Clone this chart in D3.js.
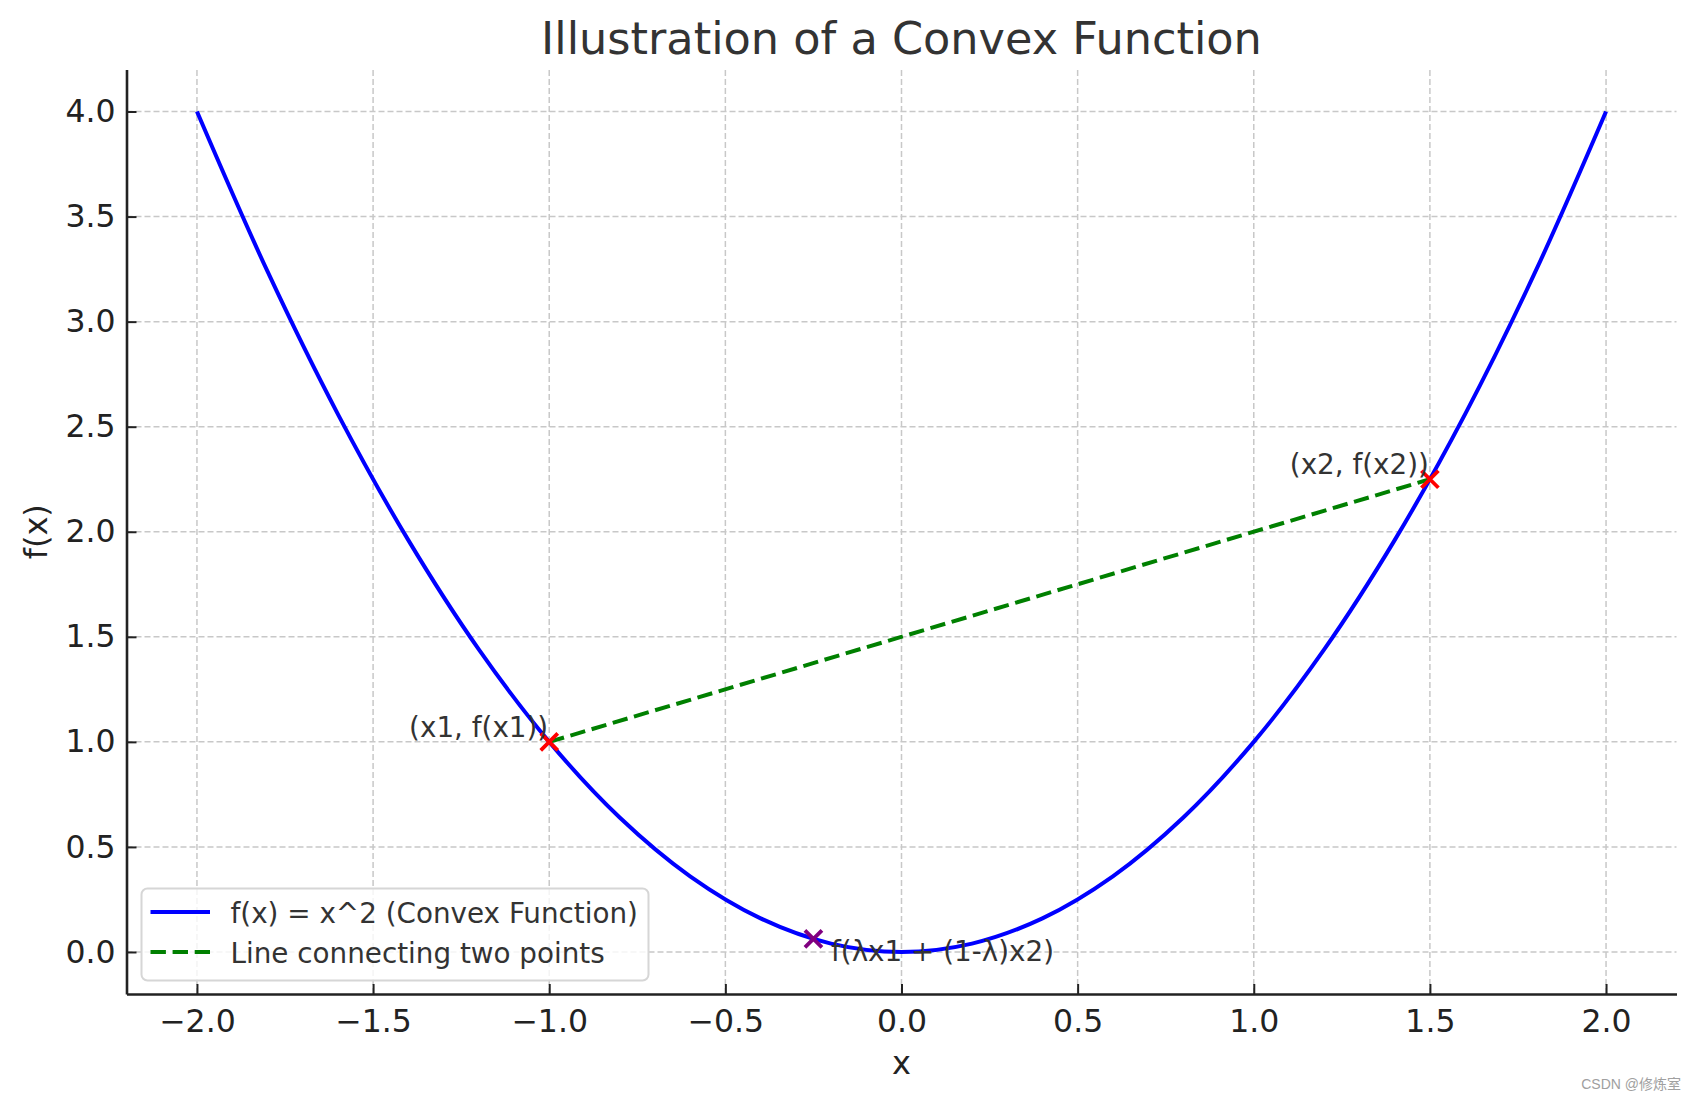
<!DOCTYPE html>
<html>
<head>
<meta charset="utf-8">
<script src="https://cdn.jsdelivr.net/npm/d3@7"></script>
<style>
  body { margin: 0; background: #fff; }
  svg { display: block; font-family: "DejaVu Sans", sans-serif; }
  .grid line { stroke: #c8c8c8; stroke-width: 1.5; stroke-dasharray: 6,3; }
  .axis path, .axis line { stroke: #222; }
  .axis text { fill: #222; font-size: 31.5px; font-family: "DejaVu Sans", sans-serif; }
</style>
</head>
<body>
<script>
// curve samples: f(x) = x^2
var curveX = [-2.0, -1.8, -1.6, -1.4, -1.2, -1.0, -0.8, -0.6, -0.4, -0.2, 0.0,
              0.2, 0.4, 0.6, 0.8, 1.0, 1.2, 1.4, 1.6, 1.8, 2.0];
var curveY = [4.00, 3.24, 2.56, 1.96, 1.44, 1.00, 0.64, 0.36, 0.16, 0.04, 0.00,
              0.04, 0.16, 0.36, 0.64, 1.00, 1.44, 1.96, 2.56, 3.24, 4.00];

// the two points joined by the chord
var pointX = [-1.0, 1.5];
var pointY = [1.0, 2.25];
var pointLabels = ["(x1, f(x1))", "(x2, f(x2))"];

// the point on the curve at lambda*x1 + (1-lambda)*x2
var midX = [-0.25];
var midY = [0.0625];
var midLabel = "f(\u03bbx1 + (1-\u03bb)x2)";

var xTicks = [-2.0, -1.5, -1.0, -0.5, 0.0, 0.5, 1.0, 1.5, 2.0];
var yTicks = [0.0, 0.5, 1.0, 1.5, 2.0, 2.5, 3.0, 3.5, 4.0];
var legendLabels = ["f(x) = x^2 (Convex Function)", "Line connecting two points"];

(function(){
    var width = 1697, height = 1101;
    var margin = {left: 126.5, right: 20.5, top: 69.5, bottom: 107};

    var svg = d3.select("body").append("svg")
        .attr("width", width)
        .attr("height", height);

    //scales with matplotlib style 5% margins
    var x = d3.scaleLinear().domain([-2.2, 2.2]).range([margin.left, width - margin.right]);
    var y = d3.scaleLinear().domain([-0.2, 4.2]).range([height - margin.bottom, margin.top]);

    var fmt = function(d){ return d3.format(".1f")(d).replace("-", "\u2212"); };

    //grid lines
    var grid = svg.append("g").attr("class", "grid");
    grid.selectAll(".gx").data(xTicks).enter().append("line")
        .attr("x1", function(d){ return x(d); }).attr("x2", function(d){ return x(d); })
        .attr("y1", y.range()[0]).attr("y2", y.range()[1]);
    grid.selectAll(".gy").data(yTicks).enter().append("line")
        .attr("y1", function(d){ return y(d); }).attr("y2", function(d){ return y(d); })
        .attr("x1", x.range()[0]).attr("x2", x.range()[1]);

    //convex curve
    var pts = curveX.map(function(d, i){ return [d, curveY[i]]; });
    var line = d3.line()
        .x(function(d){ return x(d[0]); })
        .y(function(d){ return y(d[1]); })
        .curve(d3.curveCatmullRom.alpha(0.5));
    svg.append("path")
        .datum(pts)
        .attr("d", line)
        .attr("fill", "none")
        .attr("stroke", "#0000ff")
        .attr("stroke-width", 4);

    //chord between the two points
    svg.append("path")
        .datum(pointX.map(function(d, i){ return [d, pointY[i]]; }))
        .attr("d", d3.line().x(function(d){ return x(d[0]); }).y(function(d){ return y(d[1]); }))
        .attr("fill", "none")
        .attr("stroke", "#008000")
        .attr("stroke-width", 4)
        .attr("stroke-dasharray", "15.4,6.7");

    //x markers
    function cross(g, cx, cy, color){
        var s = 8.5;
        g.append("path")
            .attr("d", "M" + (cx - s) + "," + (cy - s) + "L" + (cx + s) + "," + (cy + s) +
                       "M" + (cx - s) + "," + (cy + s) + "L" + (cx + s) + "," + (cy - s))
            .attr("stroke", color)
            .attr("stroke-width", 3.8)
            .attr("fill", "none");
    }
    var marks = svg.append("g");
    pointX.forEach(function(d, i){ cross(marks, x(d), y(pointY[i]), "#ff0000"); });
    midX.forEach(function(d, i){ cross(marks, x(d), y(midY[i]), "#800080"); });

    //annotations
    var notes = svg.append("g")
        .attr("font-size", "27.8px")
        .attr("fill", "#333");
    pointX.forEach(function(d, i){
        notes.append("text")
            .attr("x", x(d) - 1)
            .attr("y", y(pointY[i]) - 5)
            .attr("text-anchor", "end")
            .text(pointLabels[i]);
    });
    notes.append("text")
        .attr("x", x(midX[0] + 0.05))
        .attr("y", y(midY[0]) + 22)
        .text(midLabel);

    //axes, ticks pointing inward
    var xAxis = d3.axisBottom(x).tickValues(xTicks).tickFormat(fmt).tickSizeInner(-10).tickSizeOuter(0).tickPadding(16);
    var yAxis = d3.axisLeft(y).tickValues(yTicks).tickFormat(fmt).tickSizeInner(-10).tickSizeOuter(0).tickPadding(11);

    var gx = svg.append("g").attr("class", "axis")
        .attr("transform", "translate(0," + y.range()[0] + ")")
        .call(xAxis);
    var gy = svg.append("g").attr("class", "axis")
        .attr("transform", "translate(" + x.range()[0] + ",0)")
        .call(yAxis);
    gx.select(".domain").attr("stroke-width", 2.6);
    gy.select(".domain").attr("stroke-width", 2.6);
    gx.selectAll(".tick line").attr("stroke-width", 2);
    gy.selectAll(".tick line").attr("stroke-width", 2);

    //axis labels and title
    svg.append("text")
        .attr("x", (x.range()[0] + x.range()[1]) / 2)
        .attr("y", 1073.5)
        .attr("text-anchor", "middle")
        .attr("font-size", "32px")
        .attr("fill", "#222")
        .text("x");
    svg.append("text")
        .attr("transform", "translate(47," + (y.range()[0] + y.range()[1]) / 2 + ") rotate(-90)")
        .attr("text-anchor", "middle")
        .attr("font-size", "32px")
        .attr("fill", "#222")
        .text("f(x)");
    svg.append("text")
        .attr("x", (x.range()[0] + x.range()[1]) / 2)
        .attr("y", 53.5)
        .attr("text-anchor", "middle")
        .attr("font-size", "44.6px")
        .attr("fill", "#333")
        .text("Illustration of a Convex Function");

    //legend
    var legend = svg.append("g").attr("transform", "translate(141.5,888.5)");
    legend.append("rect")
        .attr("width", 507)
        .attr("height", 92)
        .attr("rx", 6)
        .attr("fill", "#fff")
        .attr("fill-opacity", 0.8)
        .attr("stroke", "#d6d6d6")
        .attr("stroke-width", 2);
    var styles = [{c: "#0000ff", dash: null}, {c: "#008000", dash: "15.4,6.7"}];
    legendLabels.forEach(function(lab, i){
        var row = legend.append("g").attr("transform", "translate(0," + (23.5 + i * 40) + ")");
        row.append("line")
            .attr("x1", 9).attr("x2", 68.5)
            .attr("stroke", styles[i].c)
            .attr("stroke-width", 4)
            .attr("stroke-dasharray", styles[i].dash);
        row.append("text")
            .attr("x", 89)
            .attr("y", 11)
            .attr("font-size", "27.8px")
            .attr("fill", "#333")
            .text(lab);
    });

    //watermark
    svg.append("text")
        .attr("x", 1681)
        .attr("y", 1089)
        .attr("text-anchor", "end")
        .attr("font-size", "14px")
        .attr("font-family", "'Liberation Sans', 'Noto Sans CJK SC', sans-serif")
        .attr("fill", "#a0a0a0")
        .text("CSDN @修炼室");
})();
</script>
</body>
</html>
